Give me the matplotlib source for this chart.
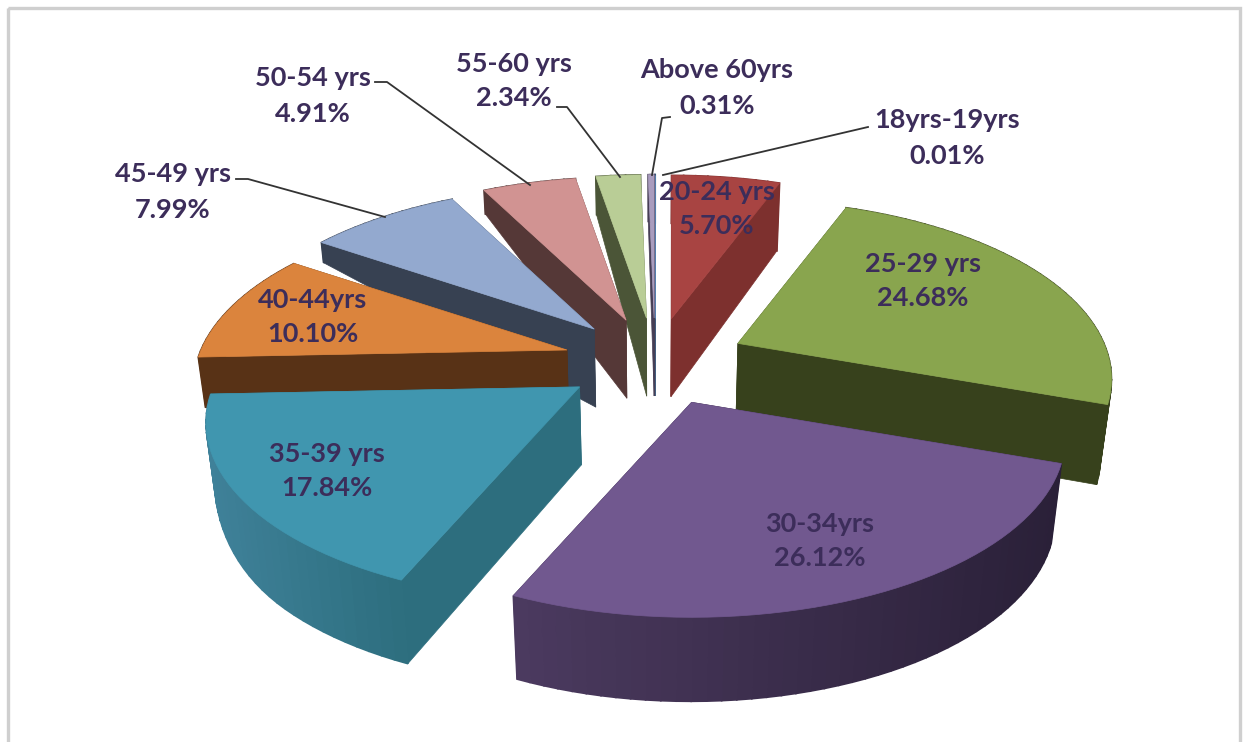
import numpy as np
import matplotlib
matplotlib.use('Agg')
import matplotlib.pyplot as plt
from matplotlib.patches import Polygon, Rectangle

# share of each age group, clockwise from 12 o'clock
age_groups = ['18yrs-19yrs', '20-24 yrs', '25-29 yrs', '30-34yrs', '35-39 yrs',
              '40-44yrs', '45-49 yrs', '50-54 yrs', '55-60 yrs', 'Above 60yrs']
shares = [0.01, 5.70, 24.68, 26.12, 17.84, 10.10, 7.99, 4.91, 2.34, 0.31]

top_colors = ['#5f8fc4', '#a84442', '#89a54e', '#71588f', '#4096af',
              '#db843d', '#93a9cf', '#d19392', '#b9cd96', '#a99cbe']
wall_colors = ['#3a5678', '#7d302e', '#37411c', '#2d2239', '#2d6e7e',
               '#583216', '#374152', '#553837', '#4b5537', '#463e55']
# outer rim is shaded left -> right
rim_left = ['#3a5678', '#7d302e', '#37411c', '#4b3a5f', '#3f8199',
            '#583216', '#374152', '#553837', '#4b5537', '#463e55']
rim_right = ['#3a5678', '#7d302e', '#37411c', '#2a2038', '#2d6e7e',
             '#583216', '#374152', '#553837', '#4b5537', '#463e55']

label_pos = [(947, 138), (717, 209), (923, 281), (820, 541), (327, 471),
             (313, 317), (173, 192), (313, 96), (514, 81), (717, 88)]
leaders = [[(868, 127), (663, 175)],
           [(670, 117), (662, 118), (652, 175)],
           [(557, 107), (567, 107), (620, 177)],
           [(375, 82), (387, 82), (530, 185)],
           [(236, 179), (248, 179), (385, 217)]]

text_color = '#3c2d5a'
cx, cy = 655, 362      # pie centre on the canvas
ex, ey = 91.5, 44      # explode distance
rx, ry, persp = 366, 172, 0.2


def project(x, y):
    s = 1 / (1 + persp * y)
    return rx * x * s, -ry * y * s


def thickness(x, y):
    w = np.maximum(0, y - x)
    return 78 - 30 * w ** 2 + 6 * np.maximum(0, -y)


def lower(px, py, d):
    # bottom edge, verticals lean a little towards the middle
    return px - (px - cx) * 0.025 * d / 80, py + d


fig = plt.figure(figsize=(12.43, 7.42), dpi=100)
ax = fig.add_axes([0, 0, 1, 1])
ax.set_xlim(0, 1243)
ax.set_ylim(742, 0)
ax.axis('off')

ax.add_patch(Rectangle((8, 8), 1232, 800, fill=False, ec='#cfcfcf', lw=2.4))

edges = np.cumsum([0] + shares) / sum(shares) * 2 * np.pi
mids = (edges[:-1] + edges[1:]) / 2

# back slices first, so the front ones cover them
for i in np.argsort(-np.cos(mids)):
    a0, a1 = edges[i], edges[i + 1]
    t = np.linspace(a0, a1, max(int((a1 - a0) * 30), 4))
    ux, uy = np.sin(t), np.cos(t)
    ax0 = cx + ex * np.sin(mids[i])
    ay0 = cy - ey * np.cos(mids[i])
    dx, dy = project(ux, uy)
    tx, ty = ax0 + dx, ay0 + dy
    dep = thickness(ux, uy)
    bx, by = lower(tx, ty, dep)
    abx, aby = lower(ax0, ay0, thickness(0.0, 0.0))

    # radial walls
    for k in (0, -1):
        pts = [(ax0, ay0), (tx[k], ty[k]), (bx[k], by[k]), (abx, aby)]
        ax.add_patch(Polygon(pts, fc=wall_colors[i], ec=wall_colors[i], lw=0.5, zorder=3))

    # outer rim, small quads for the gradient
    c0 = np.array(matplotlib.colors.to_rgb(rim_left[i]))
    c1 = np.array(matplotlib.colors.to_rgb(rim_right[i]))
    xmin, xmax = tx.min(), tx.max()
    for k in range(len(t) - 1):
        f = (tx[k] + tx[k + 1]) / 2
        f = (f - xmin) / max(xmax - xmin, 1)
        col = c0 + (c1 - c0) * f
        quad = [(tx[k], ty[k]), (tx[k + 1], ty[k + 1]), (bx[k + 1], by[k + 1]), (bx[k], by[k])]
        ax.add_patch(Polygon(quad, fc=col, ec=col, lw=1.2, zorder=3))

    top = [(ax0, ay0)] + list(zip(tx, ty))
    ax.add_patch(Polygon(top, fc=top_colors[i], ec=top_colors[i], lw=0.5, zorder=3))

for pts in leaders:
    xs, ys = zip(*pts)
    ax.plot(xs, ys, color='#333333', lw=1.3, zorder=4)

for name, val, (x, y) in zip(age_groups, shares, label_pos):
    ax.text(x, y, f'{name}\n{val:.2f}%', ha='center', va='center', multialignment='center',
            fontsize=19.5, fontweight='bold', family=['Lato', 'DejaVu Sans'],
            color=text_color, linespacing=1.55, zorder=5)

fig.savefig('out.png', dpi=100)
